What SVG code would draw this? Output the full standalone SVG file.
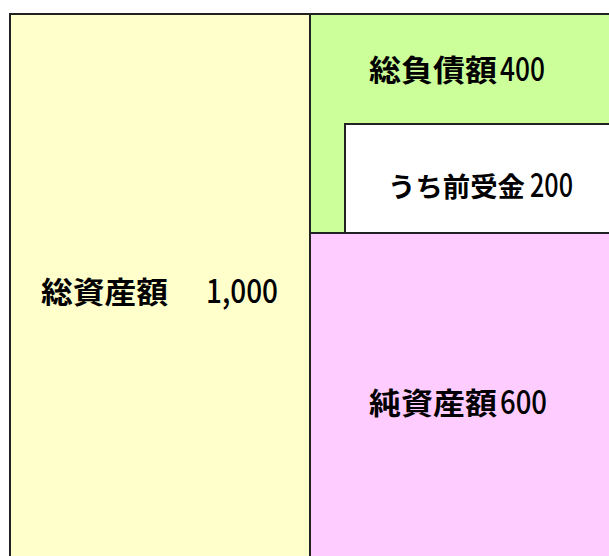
<svg xmlns="http://www.w3.org/2000/svg" width="609" height="556" viewBox="0 0 609 556">
<style>
.box{stroke:#222;stroke-width:2}
.t{font-family:"Noto Sans CJK JP","Noto Sans",sans-serif;font-size:30px;font-weight:bold;fill:#000}
.n{font-size:33px;font-weight:500}
</style>
<rect width="609" height="556" fill="#fff"/>
<g id="assets">
<rect class="box" x="10" y="14" width="300" height="560" fill="#FFFFCC"/>
<text class="t" y="303"><tspan x="41" textLength="127" lengthAdjust="spacingAndGlyphs">総資産額</tspan><tspan class="n" x="206" textLength="72" lengthAdjust="spacingAndGlyphs">1,000</tspan></text>
</g>
<g id="liabilities">
<rect class="box" x="310" y="14" width="310" height="219" fill="#CCFF99"/>
<text class="t" y="81"><tspan x="369" textLength="128" lengthAdjust="spacingAndGlyphs">総負債額</tspan><tspan class="n" x="500" textLength="45" lengthAdjust="spacingAndGlyphs">400</tspan></text>
</g>
<g id="advance">
<rect class="box" x="345" y="124" width="275" height="109" fill="#fff"/>
<text class="t" y="197"><tspan x="388" font-size="27" textLength="137" lengthAdjust="spacingAndGlyphs">うち前受金</tspan><tspan class="n" x="530" textLength="43" lengthAdjust="spacingAndGlyphs">200</tspan></text>
</g>
<g id="netassets">
<rect class="box" x="310" y="233" width="310" height="340" fill="#FFCCFF"/>
<text class="t" y="414"><tspan x="369" textLength="128" lengthAdjust="spacingAndGlyphs">純資産額</tspan><tspan class="n" x="500" textLength="47" lengthAdjust="spacingAndGlyphs">600</tspan></text>
</g>
</svg>
